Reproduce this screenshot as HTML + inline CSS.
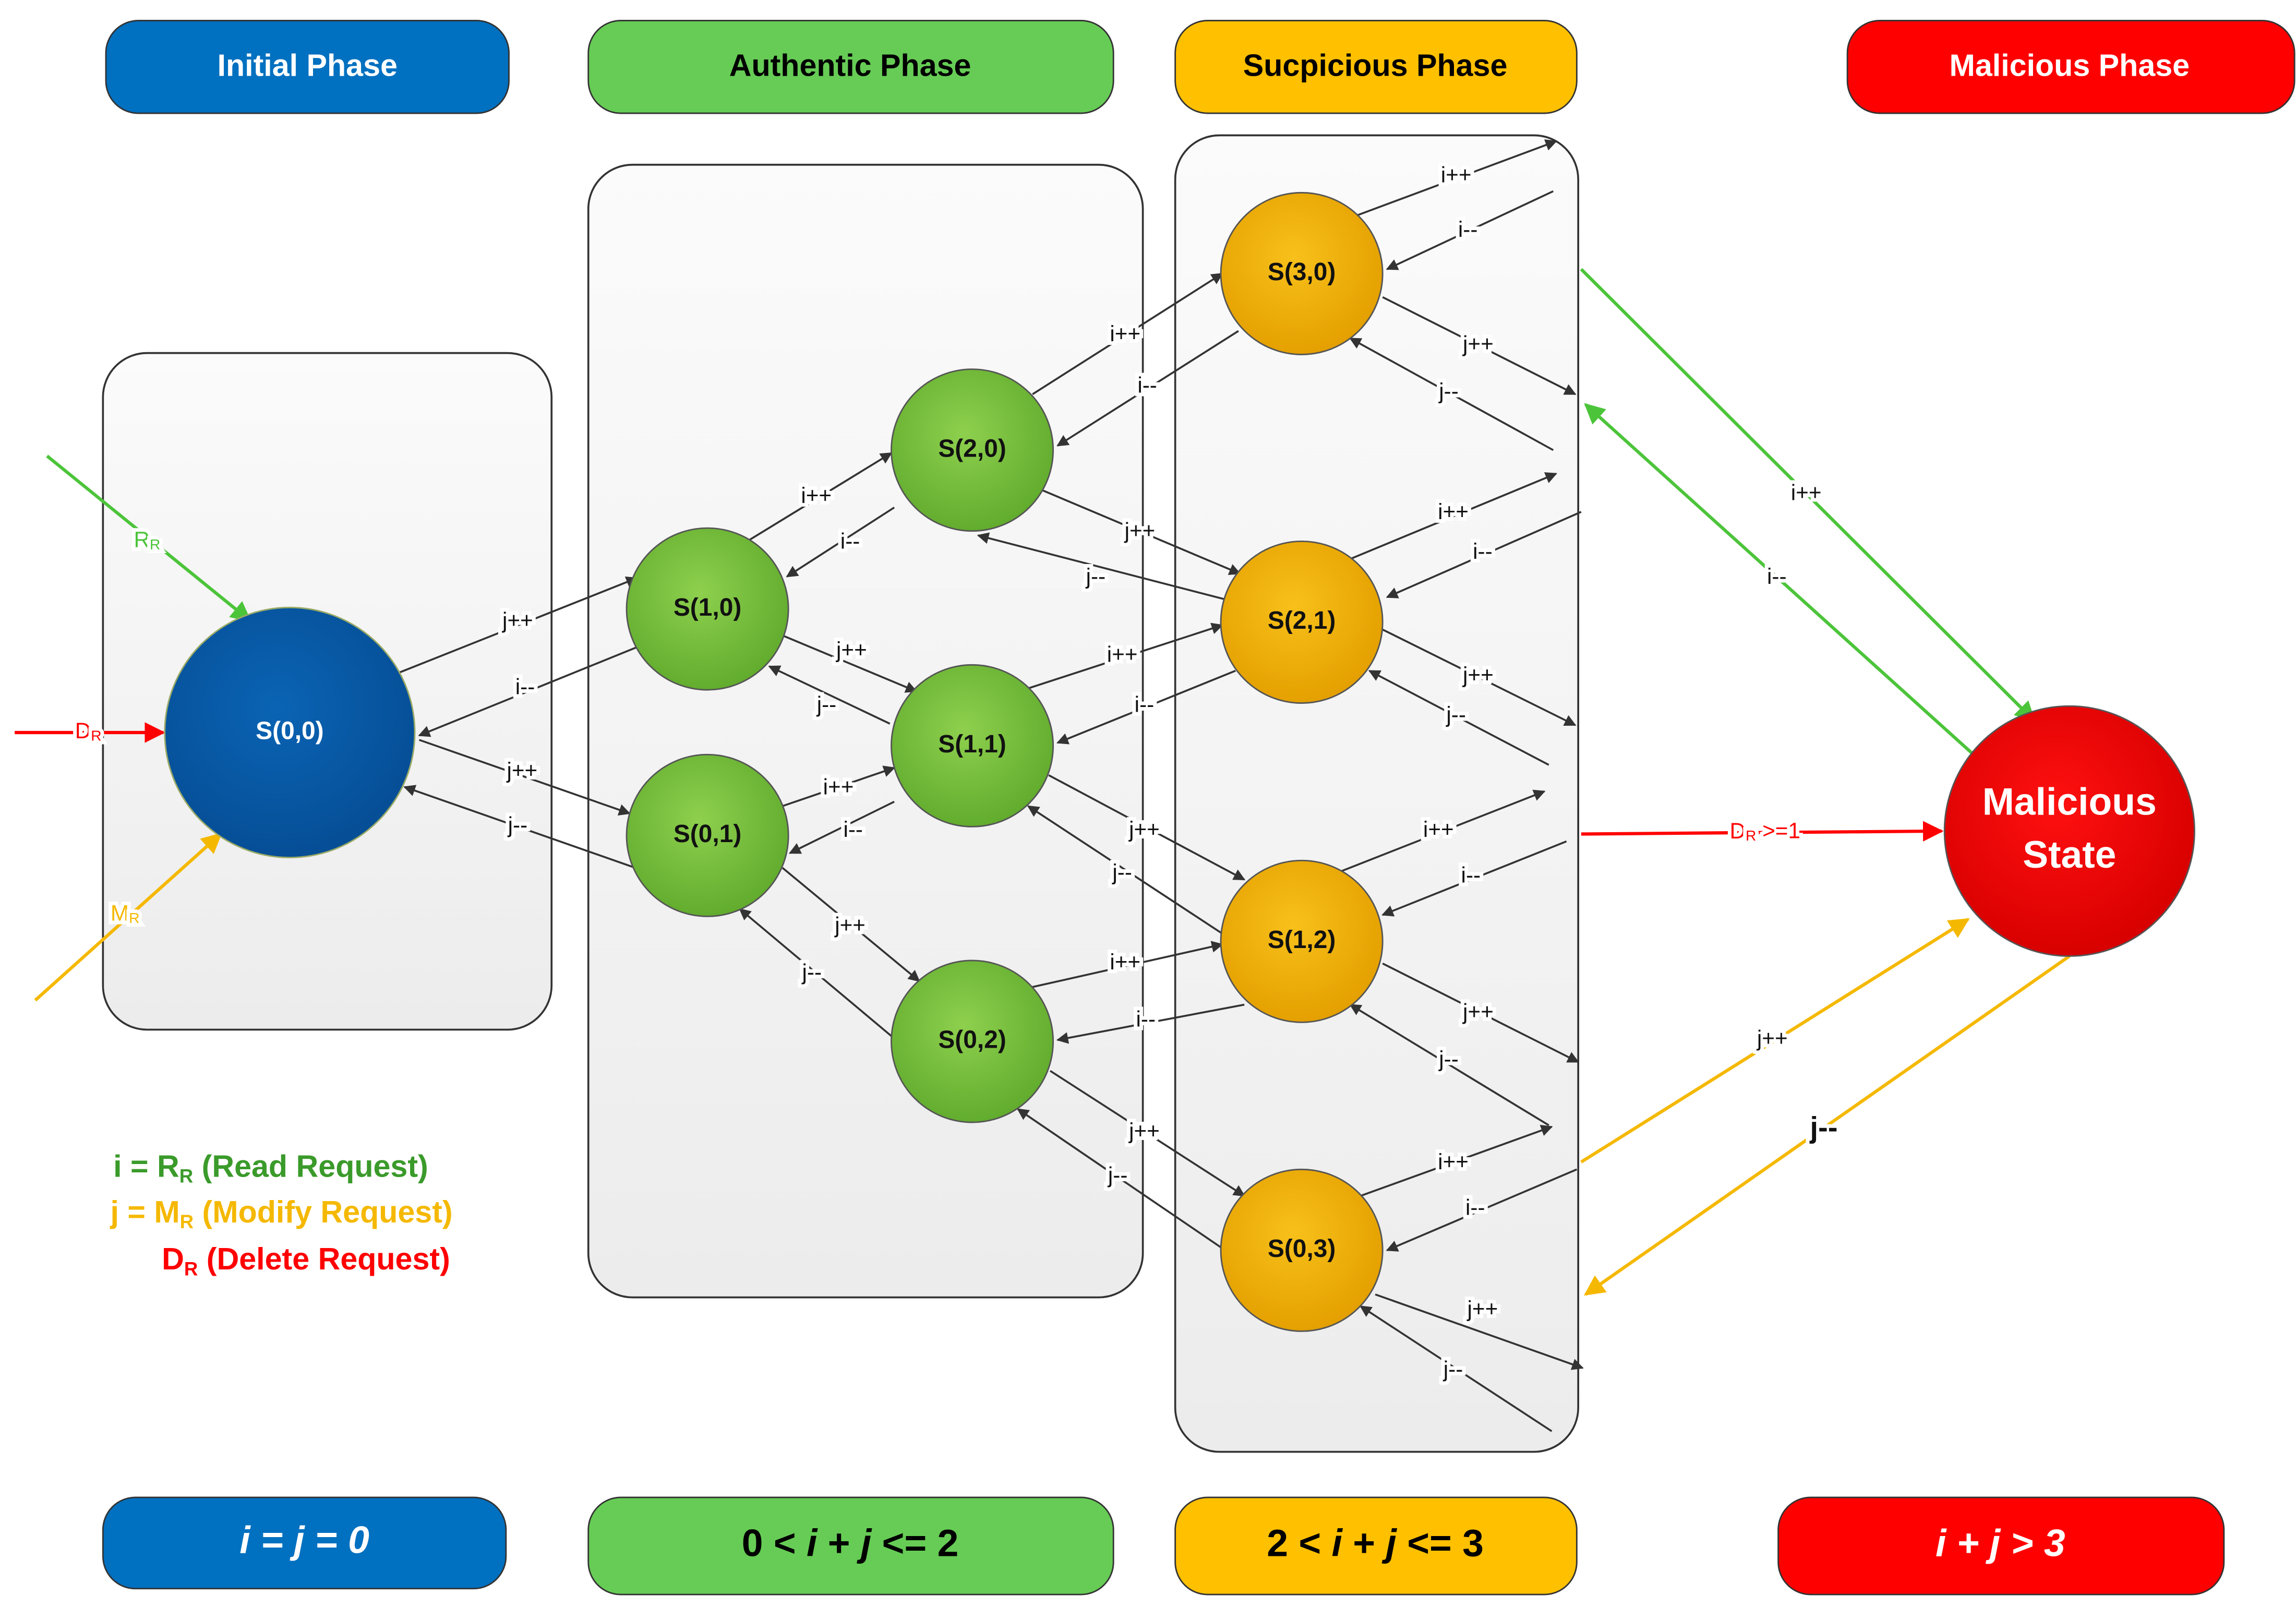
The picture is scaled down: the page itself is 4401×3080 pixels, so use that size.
<!DOCTYPE html>
<html><head><meta charset="utf-8"><style>
html,body{margin:0;padding:0;background:#fff}
svg{display:block}
text{font-family:"Liberation Sans",sans-serif}
.l{font-size:15px;fill:#111;paint-order:stroke;stroke:#fff;stroke-width:5px;text-anchor:middle;dominant-baseline:middle}
.n{font-size:17px;font-weight:bold;fill:#111;text-anchor:middle;dominant-baseline:middle}
.h{font-size:21px;font-weight:bold;text-anchor:middle;dominant-baseline:middle}
.b{font-size:26px;font-weight:bold;text-anchor:middle;dominant-baseline:middle}
</style></head><body>
<svg width="4401" height="3080" viewBox="0 0 1561 1092.5" preserveAspectRatio="none" xmlns="http://www.w3.org/2000/svg">
<defs>
<marker id="a" viewBox="0 0 10 10" refX="9" refY="5" markerWidth="8" markerHeight="8" orient="auto" markerUnits="userSpaceOnUse"><path d="M0,0L10,5L0,10z" fill="#333"/></marker>
<marker id="g" viewBox="0 0 10 10" refX="9" refY="5" markerWidth="14" markerHeight="14" orient="auto" markerUnits="userSpaceOnUse"><path d="M0,0L10,5L0,10z" fill="#4CC43A"/></marker>
<marker id="r" viewBox="0 0 10 10" refX="9" refY="5" markerWidth="14" markerHeight="14" orient="auto" markerUnits="userSpaceOnUse"><path d="M0,0L10,5L0,10z" fill="#F00"/></marker>
<marker id="o" viewBox="0 0 10 10" refX="9" refY="5" markerWidth="14" markerHeight="14" orient="auto" markerUnits="userSpaceOnUse"><path d="M0,0L10,5L0,10z" fill="#F5B800"/></marker>
<linearGradient id="pg" x1="0" y1="0" x2="0" y2="1"><stop offset="0" stop-color="#fbfbfb"/><stop offset="1" stop-color="#ececec"/></linearGradient>
<radialGradient id="gc" cx="0.45" cy="0.4" r="0.6"><stop offset="0" stop-color="#8ED04E"/><stop offset="1" stop-color="#62AC2E"/></radialGradient>
<radialGradient id="oc" cx="0.45" cy="0.4" r="0.6"><stop offset="0" stop-color="#F8C01A"/><stop offset="1" stop-color="#E4A000"/></radialGradient>
<radialGradient id="bc" cx="0.45" cy="0.4" r="0.6"><stop offset="0" stop-color="#0A64B4"/><stop offset="1" stop-color="#064E96"/></radialGradient>
<radialGradient id="rc" cx="0.45" cy="0.4" r="0.6"><stop offset="0" stop-color="#FF1010"/><stop offset="1" stop-color="#D80000"/></radialGradient>
</defs>
<!-- headers -->
<rect x="72" y="14" width="274" height="63" rx="22" fill="#0070C0" stroke="#333"/>
<text class="h" x="209" y="46" fill="#fff">Initial Phase</text>
<rect x="400" y="14" width="357" height="63" rx="22" fill="#66CC55" stroke="#333"/>
<text class="h" x="578" y="46" fill="#000">Authentic Phase</text>
<rect x="799" y="14" width="273" height="63" rx="22" fill="#FFC000" stroke="#333"/>
<text class="h" x="935" y="46" fill="#000">Sucpicious Phase</text>
<rect x="1256" y="14" width="304" height="63" rx="22" fill="#FF0000" stroke="#333"/>
<text class="h" x="1407" y="46" fill="#fff">Malicious Phase</text>
<!-- footers -->
<rect x="70" y="1018" width="274" height="62" rx="22" fill="#0070C0" stroke="#333"/>
<text class="b" x="207" y="1049" fill="#fff" font-style="italic">i = j = 0</text>
<rect x="400" y="1018" width="357" height="66" rx="22" fill="#66CC55" stroke="#333"/>
<text class="b" x="578" y="1051" fill="#000">0 &lt; <tspan font-style="italic">i</tspan> + <tspan font-style="italic">j</tspan>  &lt;= 2</text>
<rect x="799" y="1018" width="273" height="66" rx="22" fill="#FFC000" stroke="#333"/>
<text class="b" x="935" y="1051" fill="#000">2 &lt; <tspan font-style="italic">i</tspan> + <tspan font-style="italic">j</tspan>  &lt;= 3</text>
<rect x="1209" y="1018" width="303" height="66" rx="22" fill="#FF0000" stroke="#333"/>
<text class="b" x="1360" y="1051" fill="#fff" font-style="italic">i + j  &gt; 3</text>
<!-- panels -->
<rect x="70" y="240" width="305" height="460" rx="30" fill="url(#pg)" stroke="#333" stroke-width="1.3"/>
<rect x="400" y="112" width="377" height="770" rx="30" fill="url(#pg)" stroke="#333" stroke-width="1.3"/>
<rect x="799" y="92" width="274" height="895" rx="30" fill="url(#pg)" stroke="#333" stroke-width="1.3"/>
<!-- dark edges -->
<g stroke="#333" stroke-width="1.3" marker-end="url(#a)" fill="none">
<line x1="272" y1="457" x2="433" y2="393"/><line x1="433" y1="440" x2="285" y2="500"/>
<line x1="285" y1="503" x2="428" y2="553"/><line x1="432" y1="590" x2="275" y2="535"/>
<line x1="508" y1="368" x2="606" y2="308"/><line x1="608" y1="345" x2="535" y2="392"/>
<line x1="532" y1="432" x2="623" y2="470"/><line x1="605" y1="492" x2="523" y2="453"/>
<line x1="532" y1="548" x2="608" y2="522"/><line x1="608" y1="545" x2="537" y2="580"/>
<line x1="532" y1="590" x2="625" y2="667"/><line x1="608" y1="706" x2="503" y2="618"/>
<line x1="702" y1="268" x2="831" y2="186"/><line x1="842" y1="225" x2="719" y2="303"/>
<line x1="708" y1="333" x2="843" y2="390"/><line x1="835" y1="408" x2="665" y2="364"/>
<line x1="699" y1="468" x2="831" y2="425"/><line x1="840" y1="456" x2="719" y2="505"/>
<line x1="713" y1="527" x2="846" y2="598"/><line x1="833" y1="636" x2="699" y2="548"/>
<line x1="702" y1="671" x2="831" y2="642"/><line x1="846" y1="683" x2="719" y2="707"/>
<line x1="714" y1="728" x2="846" y2="813"/><line x1="833" y1="850" x2="692" y2="754"/>
<line x1="921" y1="147" x2="1058" y2="96"/><line x1="1056" y1="130" x2="943" y2="183"/>
<line x1="940" y1="202" x2="1071" y2="268"/><line x1="1056" y1="306" x2="918" y2="230"/>
<line x1="918" y1="380" x2="1058" y2="322"/><line x1="1075" y1="348" x2="943" y2="406"/>
<line x1="940" y1="428" x2="1071" y2="493"/><line x1="1053" y1="520" x2="931" y2="456"/>
<line x1="910" y1="593" x2="1050" y2="538"/><line x1="1065" y1="572" x2="940" y2="622"/>
<line x1="940" y1="655" x2="1073" y2="722"/><line x1="1053" y1="765" x2="918" y2="683"/>
<line x1="925" y1="813" x2="1055" y2="766"/><line x1="1072" y1="795" x2="943" y2="850"/>
<line x1="935" y1="880" x2="1076" y2="930"/><line x1="1055" y1="973" x2="925" y2="888"/>
</g>
<!-- colored edges -->
<g stroke-width="2.2" fill="none">
<line x1="1075" y1="183" x2="1383" y2="490" stroke="#4CC43A" marker-end="url(#g)"/>
<line x1="1344" y1="515" x2="1078" y2="275" stroke="#4CC43A" marker-end="url(#g)"/>
<line x1="1075" y1="567" x2="1320" y2="565" stroke="#F00" marker-end="url(#r)"/>
<line x1="1075" y1="790" x2="1338" y2="625" stroke="#F5B800" marker-end="url(#o)"/>
<line x1="1407" y1="650" x2="1078" y2="880" stroke="#F5B800" marker-end="url(#o)"/>
<line x1="32" y1="310" x2="170" y2="422" stroke="#4CC43A" marker-end="url(#g)"/>
<line x1="10" y1="498" x2="111" y2="498" stroke="#F00" marker-end="url(#r)"/>
<line x1="24" y1="680" x2="150" y2="567" stroke="#F5B800" marker-end="url(#o)"/>
</g>
<!-- circles -->
<circle cx="197" cy="498" r="85" fill="url(#bc)" stroke="#9a6" stroke-width="1"/>
<text class="n" x="197" y="498" fill="#fff" style="fill:#fff">S(0,0)</text>
<g stroke="#555" stroke-width="1">
<circle cx="481" cy="414" r="55" fill="url(#gc)"/><circle cx="481" cy="568" r="55" fill="url(#gc)"/>
<circle cx="661" cy="306" r="55" fill="url(#gc)"/><circle cx="661" cy="507" r="55" fill="url(#gc)"/><circle cx="661" cy="708" r="55" fill="url(#gc)"/>
<circle cx="885" cy="186" r="55" fill="url(#oc)"/><circle cx="885" cy="423" r="55" fill="url(#oc)"/>
<circle cx="885" cy="640" r="55" fill="url(#oc)"/><circle cx="885" cy="850" r="55" fill="url(#oc)"/>
<circle cx="1407" cy="565" r="85" fill="url(#rc)"/>
</g>
<text class="n" x="481" y="414">S(1,0)</text><text class="n" x="481" y="568">S(0,1)</text>
<text class="n" x="661" y="306">S(2,0)</text><text class="n" x="661" y="507">S(1,1)</text><text class="n" x="661" y="708">S(0,2)</text>
<text class="n" x="885" y="186">S(3,0)</text><text class="n" x="885" y="423">S(2,1)</text>
<text class="n" x="885" y="640">S(1,2)</text><text class="n" x="885" y="850">S(0,3)</text>
<text class="b" x="1407" y="547" fill="#fff">Malicious</text><text class="b" x="1407" y="583" fill="#fff">State</text>
<!-- labels -->
<g class="l">
<text class="l" x="352" y="423">j++</text><text class="l" x="357" y="468">i--</text>
<text class="l" x="355" y="525">j++</text><text class="l" x="352" y="562">j--</text>
<text class="l" x="555" y="338">i++</text><text class="l" x="578" y="369">i--</text>
<text class="l" x="579" y="443">j++</text><text class="l" x="562" y="480">j--</text>
<text class="l" x="570" y="536">i++</text><text class="l" x="580" y="565">i--</text>
<text class="l" x="578" y="630">j++</text><text class="l" x="552" y="662">j--</text>
<text class="l" x="765" y="228">i++</text><text class="l" x="780" y="263">i--</text>
<text class="l" x="775" y="362">j++</text><text class="l" x="745" y="393">j--</text>
<text class="l" x="763" y="446">i++</text><text class="l" x="778" y="480">i--</text>
<text class="l" x="778" y="565">j++</text><text class="l" x="763" y="594">j--</text>
<text class="l" x="765" y="655">i++</text><text class="l" x="779" y="694">i--</text>
<text class="l" x="778" y="770">j++</text><text class="l" x="760" y="800">j--</text>
<text class="l" x="990" y="120">i++</text><text class="l" x="998" y="157">i--</text>
<text class="l" x="1005" y="235">j++</text><text class="l" x="985" y="267">j--</text>
<text class="l" x="988" y="349">i++</text><text class="l" x="1008" y="376">i--</text>
<text class="l" x="1005" y="460">j++</text><text class="l" x="990" y="487">j--</text>
<text class="l" x="978" y="565">i++</text><text class="l" x="1000" y="596">i--</text>
<text class="l" x="1005" y="689">j++</text><text class="l" x="985" y="721">j--</text>
<text class="l" x="988" y="791">i++</text><text class="l" x="1003" y="822">i--</text>
<text class="l" x="1008" y="891">j++</text><text class="l" x="988" y="932">j--</text>
<text class="l" x="1228" y="336">i++</text><text class="l" x="1208" y="393">i--</text>
<text class="l" x="1205" y="707">j++</text>
<text class="l" x="1240" y="768" style="font-size:20px;font-weight:bold">j--</text>
<text class="l" x="1200" y="566" style="fill:#F00">D<tspan font-size="10" dy="3">R</tspan><tspan dy="-3"> &gt;=1</tspan></text>
<text class="l" x="100" y="368" style="fill:#4CC43A">R<tspan font-size="10" dy="3">R</tspan></text>
<text class="l" x="60" y="498" style="fill:#F00">D<tspan font-size="10" dy="3">R</tspan></text>
<text class="l" x="85" y="622" style="fill:#F5B800">M<tspan font-size="10" dy="3">R</tspan></text>
</g>
<!-- legend -->
<text x="77" y="800" font-size="21" font-weight="bold" fill="#3A9A2A">i = R<tspan font-size="13" dy="4">R</tspan><tspan dy="-4"> (Read Request)</tspan></text>
<text x="75" y="831" font-size="21" font-weight="bold" fill="#F5B800">j = M<tspan font-size="13" dy="4">R</tspan><tspan dy="-4"> (Modify Request)</tspan></text>
<text x="110" y="863" font-size="21" font-weight="bold" fill="#F00">D<tspan font-size="13" dy="4">R</tspan><tspan dy="-4"> (Delete Request)</tspan></text>
</svg>
</body></html>
